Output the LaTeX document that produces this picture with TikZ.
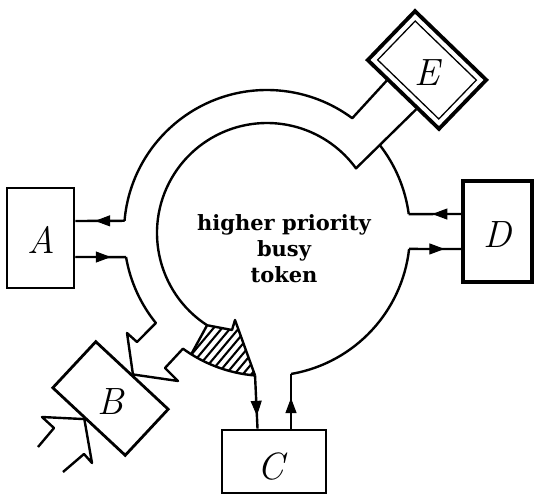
\documentclass[tikz,border=0pt]{standalone}
\usepackage{fontspec}
\newfontfamily\labelfont{DejaVu Serif}
\usetikzlibrary{arrows.meta,calc}
\tikzset{
  ring/.style={line width=2.4pt, line join=round},
  box/.style={draw, line width=2.8pt, inner sep=0pt},
  tipped/.style={line width=1pt, -{Triangle[length=15pt,width=11pt]}},
  letter/.style={font=\fontsize{38}{42}\selectfont\itshape, inner sep=0pt},
  hatch/.style={line width=2.1pt}
}
\begin{document}
\begin{tikzpicture}[x=1pt,y=-1pt]
\fill[white] (0,0) rectangle (537,497);
\coordinate (O) at (267,233);

% boxes
\node[box, minimum width=67pt, minimum height=100pt] (A) at (40.5,238) {};
\node[letter] (Al) at ($(A)+(1,2)$) {A};
\node[box, line width=3.8pt, minimum width=69pt, minimum height=101pt] (D) at (497.5,231.5) {};
\node[letter] (Dl) at ($(D)+(0,3)$) {D};
\node[box, minimum width=104pt, minimum height=63pt] (C) at (274,461.5) {};
\node[letter] (Cl) at ($(C)+(-3,5)$) {C};
\node[box, rotate=-43, minimum width=99pt, minimum height=63pt] (B) at (110.5,398.5) {};
\node[letter] (Bl) at ($(B)+(0,3)$) {B};
\node[box, line width=3.8pt, rotate=-44, minimum width=99pt, minimum height=68pt] (E) at (427,70) {};
\node[draw, line width=1.3pt, rotate=-44, minimum width=85pt, minimum height=54pt, inner sep=0pt] (Ein) at (427,70) {};
\node[letter] (El) at ($(E)+(0,3)$) {E};

% text
\node[font={\labelfont\bfseries\fontsize{21}{26}\selectfont}, align=center] (T) at (284,249) {higher priority\\busy\\token};

% ports
\coordinate (Au) at ($(A.east)+(0,-17)$);
\coordinate (Ad) at ($(A.east)+(0,19)$);
\coordinate (Du) at ($(D.west)+(0,-17.5)$);
\coordinate (Dd) at ($(D.west)+(0,17.5)$);
\coordinate (Cd) at ($(C.north)+(-16.5,0)$);
\coordinate (Cu) at ($(C.north)+(17,0)$);
\coordinate (Cut) at (291,374);
\coordinate (Eu) at ($(E.south west)!0.29!(E.south east)$);
\coordinate (Ed) at ($(E.south west)!0.69!(E.south east)$);
\coordinate (Bn) at (B.north);
\coordinate (Bs) at ($(B.south west)!0.45!(B.south east)$);

% ring points
\coordinate (Aur) at ($(O)+(-175.1:143)$);
\coordinate (Adr) at ($(O)+(170.3:143)$);
\coordinate (Hi) at ($(O)+(123:110)$);
\coordinate (Hl) at ($(O)+(122:143)$);
\coordinate (Cdr) at ($(O)+(94.8:143)$);
\coordinate (Cur) at ($(O)+(79.5:143)$);
\coordinate (Ddr) at ($(O)+(6.4:143)$);
\coordinate (Dur) at ($(O)+(-7.6:143)$);
\coordinate (Eint) at ($(O)+(-37.8:143)$);
\coordinate (Bz1) at (137,342);
\coordinate (Bz2) at (127,333);
\coordinate (Bz3) at (178,381);
\coordinate (Bz4) at (165,368);
\coordinate (Ht1) at (232,330);
\coordinate (Ht2) at (235,320);

% outer ring, top
\draw[ring] (Aur) arc[start angle=-175.1, end angle=-53.4, radius=143] -- (Eu);
% outer ring, left to B
\draw[ring] (Adr) arc[start angle=170.3, end angle=141, radius=143] -- (Bz1) -- (Bz2) -- (Bn);
% B to hatched wedge
\draw[ring] (Bn) -- (Bz3) -- (Bz4) -- ($(O)+(126:143)$) arc[start angle=126, end angle=94.8, radius=143];
% inner ring
\draw[ring] (Hi) arc[start angle=123, end angle=324, radius=110] -- (Ed);
% right side
\draw[ring] (Cut) -- (Cur) arc[start angle=79.5, end angle=6.4, radius=143];
\draw[ring] (Eint) arc[start angle=-37.8, end angle=-7.6, radius=143];

% hatched wedge
\begin{scope}
\clip (Hi) -- (Ht1) -- (Ht2) -- (Cdr) arc[start angle=94.8, end angle=122, radius=143] -- cycle;
\foreach \k in {0,...,14} \draw[hatch] (160+8.5*\k,392) -- ++(62,-74);
\end{scope}
\draw[ring] (Hl) -- (Hi) -- (Ht1) -- (Ht2) -- (Cdr);

% connectors with arrowheads part way
\draw[ring] (Aur) -- (Au);
\draw[tipped] (Aur) -- ($(Aur)!0.6!(Au)$);
\draw[ring] (Ad) -- (Adr);
\draw[tipped] (Ad) -- ($(Ad)!0.7!(Adr)$);
\draw[ring] (Du) -- (Dur);
\draw[tipped] (Du) -- ($(Du)!0.55!(Dur)$);
\draw[ring] (Ddr) -- (Dd);
\draw[tipped] (Ddr) -- ($(Ddr)!0.68!(Dd)$);
\draw[ring] (Cdr) -- (Cd);
\draw[tipped] (Cdr) -- ($(Cdr)!0.76!(Cd)$);
\draw[ring] (Cu) -- (Cut);
\draw[tipped] (Cu) -- ($(Cu)!0.56!(Cut)$);

% B lower-left wires
\coordinate (Bw1) at (42,417);
\coordinate (Bw2) at (54,428);
\coordinate (Bw3) at (38,447);
\coordinate (Bw4) at (92,463);
\coordinate (Bw5) at (84,454);
\coordinate (Bw6) at (63,472);
\draw[ring] (Bs) -- (Bw1) -- (Bw2) -- (Bw3);
\draw[ring] (Bs) -- (Bw4) -- (Bw5) -- (Bw6);
\end{tikzpicture}
\end{document}
